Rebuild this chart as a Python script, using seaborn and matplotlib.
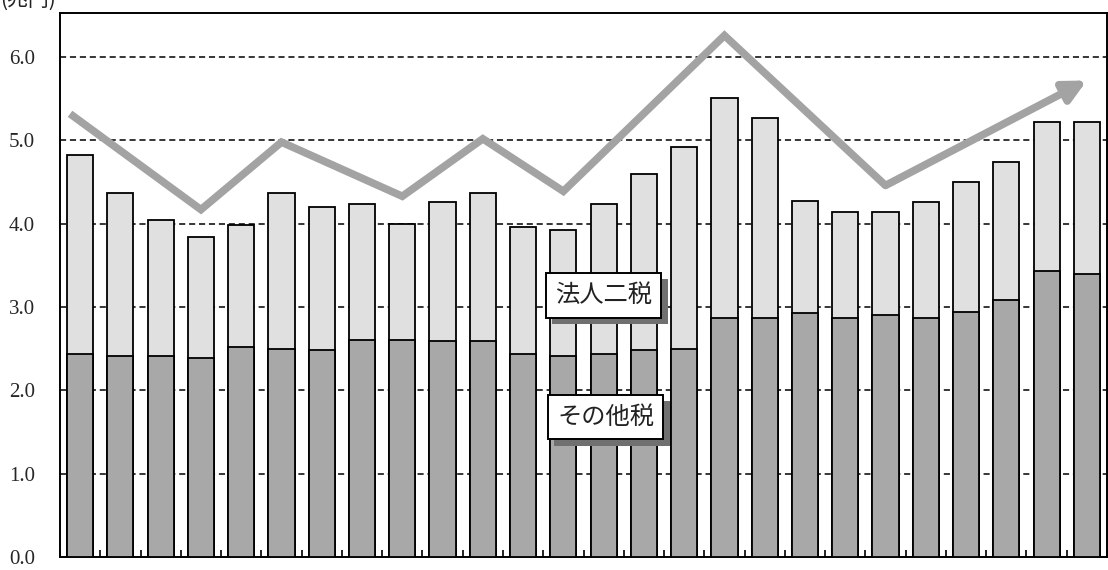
import numpy as np
import pandas as pd
import matplotlib
matplotlib.use("Agg")
import matplotlib.pyplot as plt
import matplotlib.patheffects as pe
import seaborn as sns

# Data (units: 兆円)
years = list(range(26))
total_tax = [4.83, 4.37, 4.04, 3.84, 3.98, 4.37, 4.20, 4.24, 4.00, 4.26, 4.37, 3.96, 3.93,
             4.24, 4.60, 4.92, 5.51, 5.27, 4.27, 4.14, 4.14, 4.26, 4.50, 4.74, 5.22, 5.22]
other_tax = [2.44, 2.41, 2.41, 2.39, 2.52, 2.50, 2.48, 2.61, 2.61, 2.59, 2.59, 2.44, 2.41,
             2.44, 2.48, 2.50, 2.87, 2.87, 2.93, 2.87, 2.90, 2.87, 2.94, 3.08, 3.43, 3.40]

# trend arrow drawn over the bars
trend_x = [-0.25, 3, 5, 8, 10, 12, 16, 20, 25]
trend_y = [5.32, 4.17, 4.98, 4.33, 5.02, 4.39, 6.26, 4.46, 5.72]

yticks = [0.0, 1.0, 2.0, 3.0, 4.0, 5.0, 6.0]
label_corp = "法人二税"
label_other = "その他税"
unit_label = "(兆円)"

sns.set_theme(style="white")
plt.rcParams["font.family"] = ["Noto Sans CJK JP", "DejaVu Sans"]

df = pd.DataFrame({"year": years, "total": total_tax, "other": other_tax})

fig = plt.figure(figsize=(11.08, 5.70), dpi=100)
ax = fig.add_axes([60 / 1108, 13 / 570, 1047 / 1108, 544 / 570])

# dashed grid behind the bars
for y in yticks[1:]:
    ax.axhline(y, color="black", lw=1.1, ls=(0, (4, 2.5)), zorder=0)

sns.barplot(data=df, x="year", y="total", color="#e0e0e0", saturation=1,
            width=0.65, edgecolor="black", linewidth=1.3, ax=ax, zorder=2)
sns.barplot(data=df, x="year", y="other", color="#a8a8a8", saturation=1,
            width=0.65, edgecolor="black", linewidth=1.3, ax=ax, zorder=3)

# trend line with arrow head
line_col = "#a3a3a3"
ax.plot(trend_x[:-1], trend_y[:-1], color=line_col, lw=5.5,
        solid_joinstyle="miter", solid_capstyle="butt", zorder=5)
ax.annotate("", xy=(trend_x[-1], trend_y[-1]), xytext=(trend_x[-2], trend_y[-2]),
            arrowprops=dict(arrowstyle="-|>,head_length=1.1,head_width=0.55",
                            color=line_col, lw=5.5, shrinkA=0, shrinkB=0),
            zorder=5)

ax.set_xlim(-0.5, len(years) - 0.5)
ax.set_ylim(0, 6.53)
ax.set_xlabel("")
ax.set_ylabel("")

ax.set_yticks(yticks)
ax.set_yticklabels([f"{v:.1f}" for v in yticks], family="Liberation Serif", fontsize=15)
ax.tick_params(axis="y", length=0, pad=18)
ax.set_xticks(np.arange(-0.5, len(years), 1))
ax.set_xticklabels([])
ax.tick_params(axis="x", direction="in", length=5, width=1.2, color="black", bottom=True)

for s in ax.spines.values():
    s.set_visible(True)
    s.set_color("black")
    s.set_linewidth(1.4)


def boxed_label(txt, x, y):
    t = ax.text(x, y, txt, ha="center", va="center", fontsize=17.5, color="#222222",
                zorder=7, bbox=dict(boxstyle="square,pad=0.38", fc="white", ec="black", lw=1.4))
    t.get_bbox_patch().set_path_effects([
        pe.SimplePatchShadow(offset=(4.5, -4.5), shadow_rgbFace="#707070", alpha=1.0),
        pe.Normal(),
    ])


boxed_label(label_corp, 13.0, 3.14)
boxed_label(label_other, 13.05, 1.68)

fig.text(0.0, 1.0, unit_label, ha="left", va="center", fontsize=15, color="#222222")

fig.savefig("out.png", dpi=100)
